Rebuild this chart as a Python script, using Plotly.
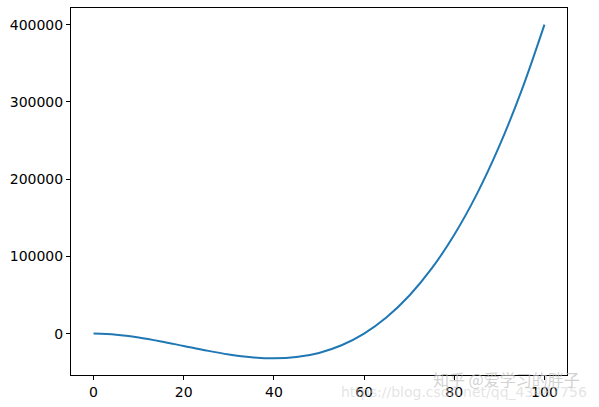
import plotly.graph_objects as go

x_vals = [0, 5, 10, 15, 20, 25, 30, 35, 40, 45, 50, 55, 60, 65, 70, 75, 80, 85, 90, 95, 100]
y_vals = [0, -1375, -5000, -10125, -16000, -21875, -27000, -30625, -32000, -30375, -25000,
          -15125, 0, 21125, 49000, 84375, 128000, 180625, 243000, 315875, 400000]
x_ticks = [0, 20, 40, 60, 80, 100]
y_ticks = [0, 100000, 200000, 300000, 400000]

fig = go.Figure()
fig.add_trace(go.Scatter(x=x_vals, y=y_vals, mode="lines",
                         line=dict(color="#1f77b4", width=2, shape="spline"),
                         hoverinfo="skip"))

axis_common = dict(showline=True, linecolor="black", linewidth=1, mirror=True,
                   ticks="outside", ticklen=4, tickcolor="black", tickwidth=1,
                   showgrid=False, zeroline=False,
                   tickfont=dict(family="DejaVu Sans", size=14, color="black"))

fig.update_layout(
    width=599, height=407,
    margin=dict(l=71, r=32, t=7, b=31),
    paper_bgcolor="white", plot_bgcolor="white",
    showlegend=False,
    xaxis=dict(range=[-5, 105], tickvals=x_ticks, ticktext=[str(v) for v in x_ticks], **axis_common),
    yaxis=dict(range=[-53600, 421600], tickvals=y_ticks, ticktext=[str(v) for v in y_ticks], **axis_common),
)

fig.add_annotation(xref="paper", yref="paper", x=1.045, y=-0.045, xanchor="right", yanchor="middle",
                   text="https://blog.csdn.net/qq_43487756", showarrow=False,
                   font=dict(family="DejaVu Sans", size=14, color="rgba(205,205,205,0.55)"))
fig.add_annotation(xref="paper", yref="paper", x=1.03, y=-0.01, xanchor="right", yanchor="middle",
                   text="知乎 @爱学习的胖子", showarrow=False,
                   font=dict(family="Noto Sans CJK SC", size=16, color="rgba(190,190,190,0.7)"))

fig.write_html("out.html", post_script="document.body.style.margin='0';",
               config={"displayModeBar": False, "staticPlot": True})
